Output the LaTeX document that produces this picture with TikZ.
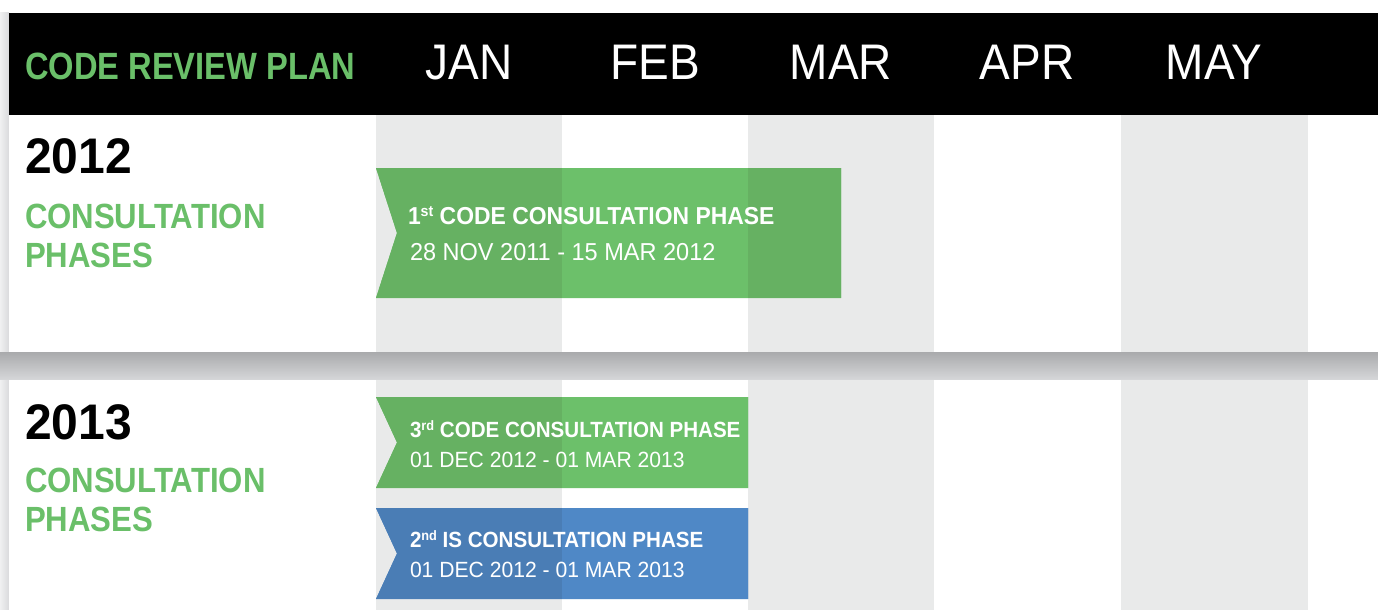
\documentclass[tikz,border=0pt]{standalone}
\usepackage{graphicx}
\usepackage{fontspec}
\setmainfont{Liberation Sans}
% narrow sans cuts for the plan's lettering
\newfontfamily\dinb[FakeStretch=0.86]{Liberation Sans}
\newfontfamily\dinm[FakeStretch=0.89]{Liberation Sans}
\newfontfamily\dinr[FakeStretch=0.92]{Liberation Sans}
\newfontfamily\dint[FakeStretch=0.935]{Liberation Sans}
\newfontfamily\dinw[FakeStretch=0.96]{Liberation Sans}

% small raised ordinal suffix
\newcommand{\ordsuf}[1]{\raisebox{0.3em}{\scalebox{0.62}{#1}}}

\definecolor{planGreen}{HTML}{6ABF69}
\definecolor{colGray}{HTML}{E9EAEA}
\definecolor{barGreen}{HTML}{6CC06A}
\definecolor{barGreenDk}{HTML}{66B162}
\definecolor{barBlue}{HTML}{4F88C6}
\definecolor{barBlueDk}{HTML}{4A7DB5}
\definecolor{sepTop}{HTML}{A9AAAC}
\definecolor{sepBot}{HTML}{D5D6D8}
\definecolor{edgeLt}{HTML}{F0F0F1}
\definecolor{edgeDk}{HTML}{D9DADC}

\tikzset{
  lbl/.style={anchor=base west, inner sep=0pt, outer sep=0pt},
  month/.style={anchor=base, inner sep=0pt, text=white,
    font=\dinr\fontsize{50}{52}\selectfont},
  yearlbl/.style={lbl, text=black, font=\dinw\bfseries\fontsize{50}{52}\selectfont},
  phaselbl/.style={lbl, text=planGreen, font=\dinm\bfseries\fontsize{35}{39}\selectfont},
  bartitle/.style={lbl, text=white, font=\dint\bfseries\fontsize{#1}{#1}\selectfont},
  bardate/.style={lbl, text=white, font=\dinw\fontsize{#1}{#1}\selectfont},
}

\begin{document}
\begin{tikzpicture}[x=1pt,y=-1pt]
\useasboundingbox (0,0) rectangle (1378,610);
\fill[white] (0,0) rectangle (1378,610);

% left edge shadow of the panels
\shade[left color=edgeLt, right color=edgeDk] (0,13) rectangle (9,610);

% header bar
\fill[black] (9,13) rectangle (1378,115);

% panels
\fill[white] (9,115) rectangle (1378,352);
\fill[white] (9,379) rectangle (1378,610);
\foreach \xa/\xb in {376/562, 748/934, 1121/1308} {
  \fill[colGray] (\xa,115) rectangle (\xb,352);
  \fill[colGray] (\xa,379) rectangle (\xb,610);
}

% shadowed gap between the two years
\shade[top color=sepTop, bottom color=sepBot] (0,352) rectangle (1378,379);

% header labels
\node[lbl, text=planGreen, font=\dinb\bfseries\fontsize{38}{40}\selectfont]
  (title) at (25,79) {CODE REVIEW PLAN};
\node[month] (jan) at (469,79) {JAN};
\node[month] (feb) at (655,79) {FEB};
\node[month] (mar) at (841,79) {MAR};
\node[month] (apr) at (1027,79) {APR};
\node[month] (may) at (1214,79) {MAY};

% year captions
\node[yearlbl] (y2012) at (25,173) {2012};
\node[phaselbl] (c2012) at (25,228) {CONSULTATION};
\node[phaselbl] (p2012) at (25,267) {PHASES};

\node[yearlbl] (y2013) at (25,439) {2013};
\node[phaselbl] (c2013) at (25,492) {CONSULTATION};
\node[phaselbl] (p2013) at (25,531) {PHASES};

% phase bars: lighter over white months, darker over gray months
\newcommand{\phasebar}[6]{%
  \fill[#5] (376,#1) -- (#3,#1) -- (#3,#2) -- (376,#2) -- (397,#4) -- cycle;
  \begin{scope}
    \clip (376,#1) -- (#3,#1) -- (#3,#2) -- (376,#2) -- (397,#4) -- cycle;
    \fill[#6] (376,#1) rectangle (562,#2);
    \fill[#6] (748,#1) rectangle (934,#2);
  \end{scope}}

\phasebar{168}{298}{841}{233}{barGreen}{barGreenDk}
\phasebar{397}{488}{748}{442.5}{barGreen}{barGreenDk}
\phasebar{508}{599}{748}{553.5}{barBlue}{barBlueDk}

\node[bartitle=24.5] (b1t) at (408,224) {1\ordsuf{st} CODE CONSULTATION PHASE};
\node[bardate=24.5] (b1d) at (410,260) {28 NOV 2011 - 15 MAR 2012};

\node[bartitle=22] (b2t) at (410,437) {3\ordsuf{rd} CODE CONSULTATION PHASE};
\node[bardate=22] (b2d) at (410,467) {01 DEC 2012 - 01 MAR 2013};

\node[bartitle=22] (b3t) at (410,547.5) {2\ordsuf{nd} IS CONSULTATION PHASE};
\node[bardate=22] (b3d) at (410,577.5) {01 DEC 2012 - 01 MAR 2013};
\end{tikzpicture}
\end{document}
